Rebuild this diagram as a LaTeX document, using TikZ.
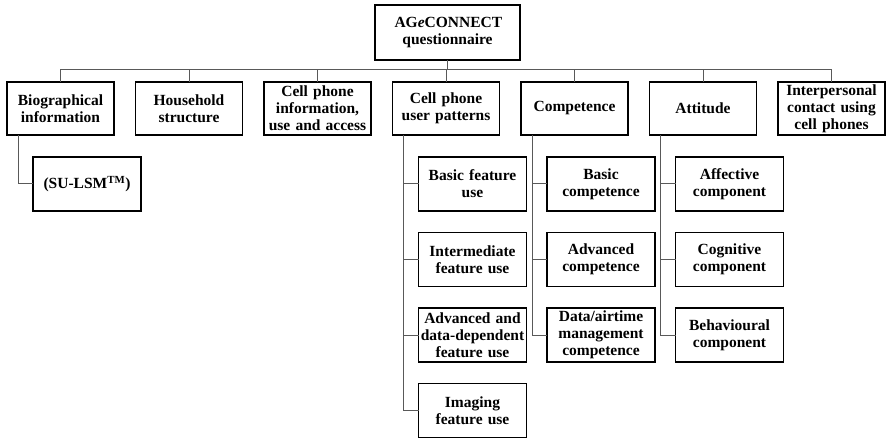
\documentclass[tikz,border=0pt]{standalone}
\usepackage{fontspec}
\setmainfont{Liberation Serif}
\usetikzlibrary{chains,positioning}

\begin{document}
\begin{tikzpicture}[
	x=1pt, y=1pt,
	start chain = going right,
	node distance = 21.5pt,
	MyBox/.style={draw, line width=1.8pt, minimum width=107pt, minimum height=53pt,
		text width=106pt, align=center, inner xsep=0.5pt, inner ysep=0pt,
		outer sep=0pt, font=\bfseries\fontsize{15.5}{17}\selectfont},
	RowBox/.style={MyBox, on chain},
	SubBox/.style={MyBox, minimum width=108pt, minimum height=54pt},
	Link/.style={draw=black!65, line width=1pt},
	]
	\useasboundingbox (0,0) rectangle (886,-438);

	\node [MyBox, minimum width=145pt, minimum height=55pt] (top) at (447.5,-32.5)
		{AG\textit{e}CONNECT\\questionnaire};

	\node [RowBox] (bio) at (60.5,-108.5) {Biographical\\information};
	\node [RowBox] (house) {Household\\structure};
	\node [RowBox] (info) {Cell phone\\information,\\use and access};
	\node [RowBox] (user) {Cell phone\\user patterns};
	\node [RowBox] (comp) {Competence};
	\node [RowBox] (att) {Attitude};
	\node [RowBox] (inter) {Interpersonal\\contact using\\cell phones};

	% bus
	\coordinate (bus) at (0,-70);
	\draw[Link] (bio.north) -- (bio.north |- bus) -- (inter.north |- bus) -- (inter.north);
	\draw[Link] (top.south) -- (top.south |- bus);
	\foreach \n in {house,info,user,comp,att}
		\draw[Link] (\n.north) -- (\n.north |- bus);

	% Biographical
	\node [SubBox, below=22pt of bio.south, xshift=26.5pt] (sulsm) {(SU-LSM\textsuperscript{TM})};
	\coordinate (bioline) at ([xshift=11pt]bio.south west);
	\draw[Link] (bioline) |- (sulsm.west);

	% Cell phone user patterns
	\node [SubBox, below=22pt of user.south, xshift=26.5pt] (basic) {Basic feature\\use};
	\node [SubBox, below=21.5pt of basic] (interm) {Intermediate\\feature use};
	\node [SubBox, below=21.5pt of interm] (adv) {Advanced and\\\mbox{data-dependent}\\feature use};
	\node [SubBox, below=21.5pt of adv] (img) {Imaging\\feature use};
	\coordinate (userline) at ([xshift=11pt]user.south west);
	\draw[Link] (userline) |- (img.west);
	\foreach \n in {basic,interm,adv}
		\draw[Link] (\n.west) -- (\n.west -| userline);

	% Competence
	\node [SubBox, below=22pt of comp.south, xshift=26.5pt] (bcomp) {Basic\\competence};
	\node [SubBox, below=21.5pt of bcomp] (acomp) {Advanced\\competence};
	\node [SubBox, below=21.5pt of acomp] (dcomp) {Data/airtime\\management\\competence};
	\coordinate (compline) at ([xshift=11pt]comp.south west);
	\draw[Link] (compline) |- (dcomp.west);
	\foreach \n in {bcomp,acomp}
		\draw[Link] (\n.west) -- (\n.west -| compline);

	% Attitude
	\node [SubBox, below=22pt of att.south, xshift=26.5pt] (aff) {Affective\\component};
	\node [SubBox, below=21.5pt of aff] (cog) {Cognitive\\component};
	\node [SubBox, below=21.5pt of cog] (beh) {Behavioural\\component};
	\coordinate (attline) at ([xshift=11pt]att.south west);
	\draw[Link] (attline) |- (beh.west);
	\foreach \n in {aff,cog}
		\draw[Link] (\n.west) -- (\n.west -| attline);
\end{tikzpicture}
\end{document}
